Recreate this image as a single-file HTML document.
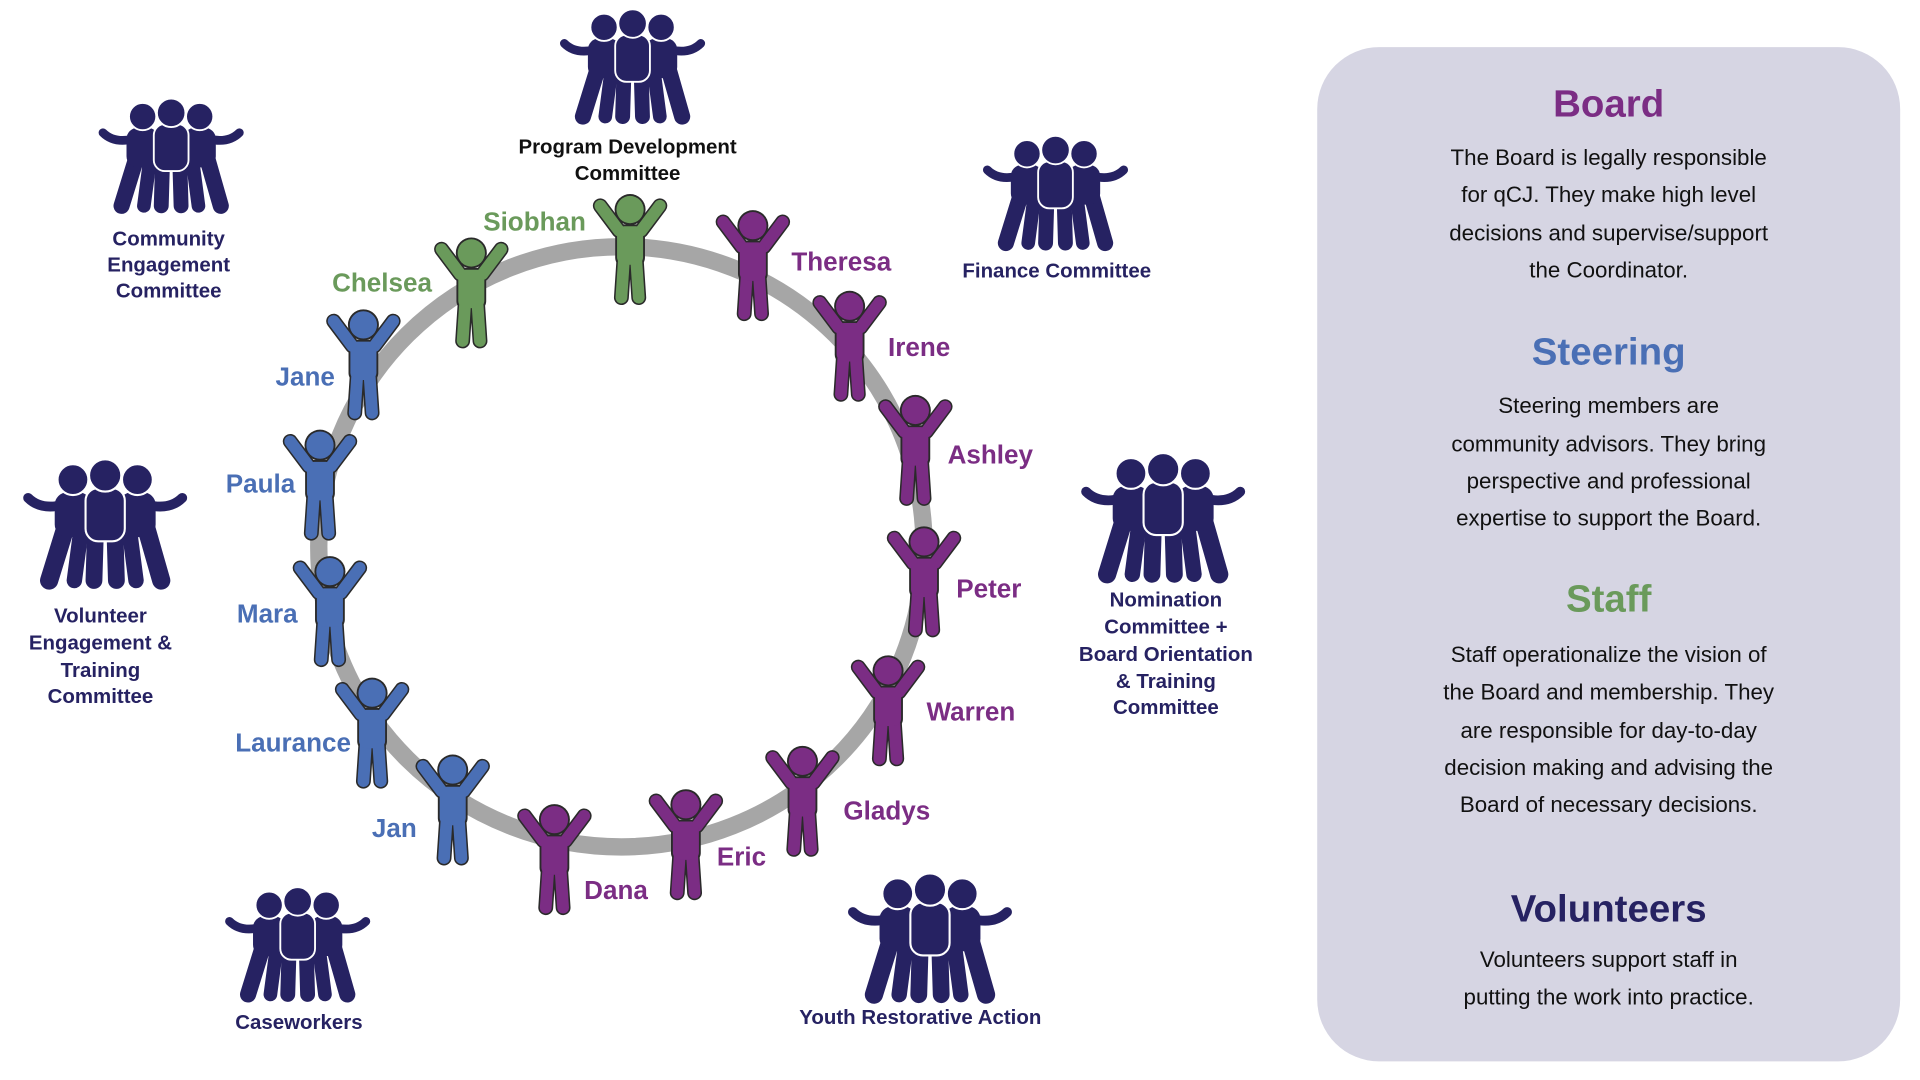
<!DOCTYPE html>
<html><head><meta charset="utf-8"><style>
html,body{margin:0;padding:0;background:#fff;}
svg{display:block;}
text{font-family:"Liberation Sans",sans-serif;}
</style></head><body>
<svg width="1920" height="1080" viewBox="0 0 1548 871" preserveAspectRatio="none" xmlns="http://www.w3.org/2000/svg">
<defs>
<g id="p">
 <path d="M-24,-34 L-9,-14 M24,-34 L9,-14 M-5,10 L-7,40 M5,10 L7,40" stroke="#2a2a2a" stroke-width="12" stroke-linecap="round" fill="none"/>
 <rect x="-12" y="-19" width="24" height="34" rx="7" fill="#2a2a2a"/>
 <circle cx="0" cy="-31" r="12.5" fill="#2a2a2a"/>
 <path d="M-24,-34 L-9,-14 M24,-34 L9,-14 M-5,10 L-7,40 M5,10 L7,40" stroke="currentColor" stroke-width="9.5" stroke-linecap="round" fill="none"/>
 <rect x="-10.5" y="-17.5" width="21" height="31" rx="6" fill="currentColor"/>
 <circle cx="0" cy="-31" r="11" fill="currentColor"/>
</g>
<g id="g" fill="#262262">
 <path d="M30,32 Q14,36 5,27 M90,32 Q106,36 115,27" stroke="#262262" stroke-width="7" stroke-linecap="round" fill="none"/>
 <path d="M33,44 L20,86 M88,44 L100,86" stroke="#262262" stroke-width="13" stroke-linecap="round"/>
 <path d="M43,48 L38,86 M77,48 L82,86" stroke="#262262" stroke-width="11" stroke-linecap="round"/>
 <path d="M53,52 L52,86 M67,52 L68,86" stroke="#262262" stroke-width="12" stroke-linecap="round"/>
 <rect x="24" y="23" width="26" height="32" rx="9"/>
 <rect x="70" y="23" width="26" height="32" rx="9"/>
 <rect x="46" y="20" width="28" height="38" rx="9" stroke="#fff" stroke-width="1.5"/>
 <circle cx="37" cy="14" r="11" stroke="#fff" stroke-width="1.5"/>
 <circle cx="83" cy="14" r="11" stroke="#fff" stroke-width="1.5"/>
 <circle cx="60" cy="11" r="11.5" stroke="#fff" stroke-width="1.5"/>
</g>
</defs>

<ellipse cx="501" cy="441" rx="244" ry="242" fill="none" stroke="#a6a6a6" stroke-width="14"/>

<use href="#g" transform="translate(450,8)"/>
<use href="#g" transform="translate(78,80)"/>
<use href="#g" transform="translate(791,110)"/>
<use href="#g" transform="translate(17,371) scale(1.13)"/>
<use href="#g" transform="translate(870,366) scale(1.13)"/>
<use href="#g" transform="translate(180,716)"/>
<use href="#g" transform="translate(682,705) scale(1.13)"/>

<g font-weight="bold" font-size="16.5" text-anchor="middle" fill="#262262">
 <text x="506" y="124" fill="#111">Program Development</text>
 <text x="506" y="145" fill="#111">Committee</text>
 <text x="136" y="198">Community</text>
 <text x="136" y="219">Engagement</text>
 <text x="136" y="240">Committee</text>
 <text x="852" y="224">Finance Committee</text>
 <text x="81" y="502">Volunteer</text>
 <text x="81" y="524">Engagement &amp;</text>
 <text x="81" y="546">Training</text>
 <text x="81" y="567">Committee</text>
 <text x="940" y="489">Nomination</text>
 <text x="940" y="511">Committee +</text>
 <text x="940" y="533">Board Orientation</text>
 <text x="940" y="555">&amp; Training</text>
 <text x="940" y="576">Committee</text>
 <text x="241" y="830">Caseworkers</text>
 <text x="742" y="826">Youth Restorative Action</text>
</g>

<g style="color:#6a9a5b"><use href="#p" x="508" y="200"/><use href="#p" x="380" y="235"/></g>
<g style="color:#7b2d84">
 <use href="#p" x="607" y="213"/><use href="#p" x="685" y="278"/><use href="#p" x="738" y="362"/>
 <use href="#p" x="745" y="468"/><use href="#p" x="716" y="572"/><use href="#p" x="647" y="645"/>
 <use href="#p" x="553" y="680"/><use href="#p" x="447" y="692"/>
</g>
<g style="color:#4a6fb5">
 <use href="#p" x="365" y="652"/><use href="#p" x="300" y="590"/><use href="#p" x="266" y="492"/>
 <use href="#p" x="258" y="390"/><use href="#p" x="293" y="293"/>
</g>

<g font-weight="bold" font-size="21">
 <g fill="#6a9a5b" text-anchor="middle"><text x="431" y="186">Siobhan</text><text x="308" y="235">Chelsea</text></g>
 <g fill="#7b2d84">
  <text x="638" y="218">Theresa</text><text x="716" y="287">Irene</text><text x="764" y="374">Ashley</text>
  <text x="771" y="482">Peter</text><text x="747" y="581">Warren</text><text x="680" y="661">Gladys</text>
  <text x="578" y="698">Eric</text><text x="471" y="725">Dana</text>
 </g>
 <g fill="#4a6fb5" text-anchor="end">
  <text x="336" y="675">Jan</text><text x="283" y="606">Laurance</text><text x="240" y="502">Mara</text>
  <text x="238" y="397">Paula</text><text x="270" y="311">Jane</text>
 </g>
</g>

<rect x="1062" y="38" width="470" height="818" rx="50" fill="#d6d5e3"/>
<g text-anchor="middle" font-size="18" fill="#111">
 <text x="1297" y="94" font-size="31" font-weight="bold" fill="#7b2d84">Board</text>
 <text x="1297" y="133">The Board is legally responsible</text>
 <text x="1297" y="163">for qCJ. They make high level</text>
 <text x="1297" y="194">decisions and supervise/support</text>
 <text x="1297" y="224">the Coordinator.</text>
 <text x="1297" y="294" font-size="31" font-weight="bold" fill="#4a6fb5">Steering</text>
 <text x="1297" y="333">Steering members are</text>
 <text x="1297" y="364">community advisors. They bring</text>
 <text x="1297" y="394">perspective and professional</text>
 <text x="1297" y="424">expertise to support the Board.</text>
 <text x="1297" y="493" font-size="31" font-weight="bold" fill="#6a9a5b">Staff</text>
 <text x="1297" y="534">Staff operationalize the vision of</text>
 <text x="1297" y="564">the Board and membership. They</text>
 <text x="1297" y="595">are responsible for day-to-day</text>
 <text x="1297" y="625">decision making and advising the</text>
 <text x="1297" y="655">Board of necessary decisions.</text>
 <text x="1297" y="743" font-size="31" font-weight="bold" fill="#262262">Volunteers</text>
 <text x="1297" y="780">Volunteers support staff in</text>
 <text x="1297" y="810">putting the work into practice.</text>
</g>
</svg>
</body></html>
